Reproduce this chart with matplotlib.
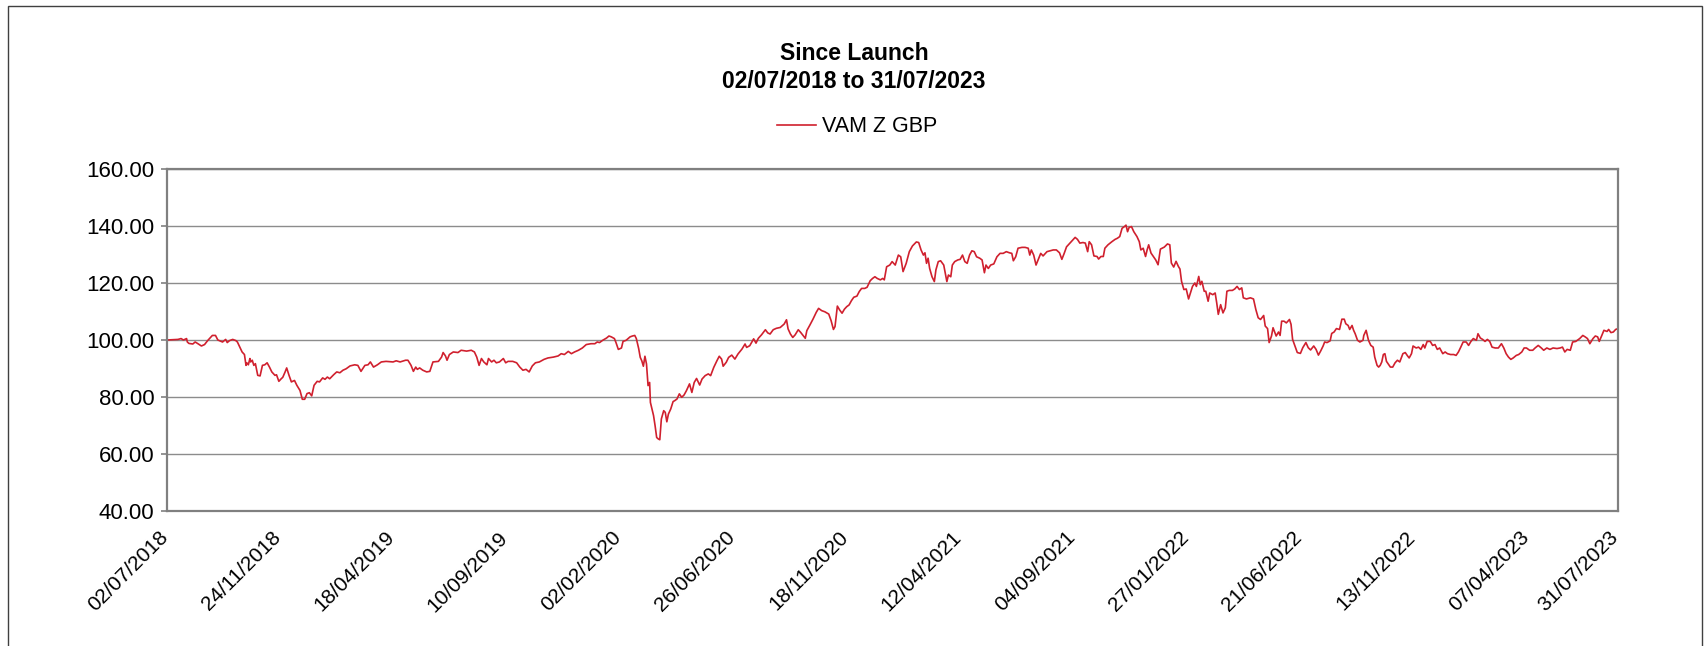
import numpy as np
import pandas as pd
import matplotlib
matplotlib.use("Agg")
import matplotlib.pyplot as plt
from matplotlib.patches import Rectangle
from matplotlib.transforms import ScaledTranslation

plt.rcParams['font.family'] = ['Liberation Sans', 'DejaVu Sans']

launch = "2018-07-02"

# days since launch / price index
days = [
    0, 14, 18, 21, 25, 26, 28, 33, 36, 39, 44, 48, 52, 58, 62, 65, 71, 75, 77, 80,
    84, 88, 90, 94, 96, 99, 101, 102, 104, 106, 107, 109, 111, 113, 116, 119, 122, 125, 128, 131,
    134, 138, 140, 143, 146, 148, 151, 153, 156, 159, 163, 166, 170, 173, 176, 179, 182, 185, 188, 192,
    195, 199, 202, 205, 208, 213, 217, 221, 225, 229, 234, 240, 244, 248, 253, 257, 260, 264, 269, 274,
    280, 289, 293, 298, 305,
    308, 312, 315, 318, 320, 323, 327, 332, 336, 340, 347, 351, 353, 356, 358, 361, 366, 372, 376, 383,
    389, 393, 396, 399, 402, 405, 409, 411, 415, 418, 421, 425, 430, 433, 436, 442, 447, 451, 455, 459,
    463, 467, 471, 476, 482, 487, 494, 500, 504, 508, 513, 517, 521, 526, 531, 536, 542, 547, 550, 553,
    557, 562, 565, 568, 572, 574, 577, 581, 583, 587, 592, 595, 598, 600, 603,
    605, 607, 609, 611, 613, 615, 617, 618, 620, 622, 624, 626, 628, 630, 632, 635, 637, 639, 641, 644,
    647, 649, 652, 655, 658, 661, 664, 668, 671, 674, 677, 681, 684, 688, 692, 695, 699, 703, 706, 709,
    711, 715, 718, 722, 726, 730, 735, 739, 741, 745, 750, 753, 756, 760, 765, 768, 771, 775, 779, 784,
    789, 792, 794, 797, 800, 803, 807, 810, 814, 816, 818, 822, 826, 830, 833, 837, 841, 846, 849,
    852, 854, 857, 860, 863, 866, 869, 872, 875, 878, 882, 885, 888, 892, 895, 899, 902, 905, 908, 912,
    915, 917, 920, 924, 927, 931, 935, 938, 941, 945, 949, 953, 958, 961, 964, 967, 969, 971, 973, 975,
    978, 981, 983, 986, 989, 993, 995, 997, 999, 1002, 1004, 1007, 1011, 1014, 1017, 1020, 1023, 1026, 1029, 1032,
    1035, 1039, 1042, 1045, 1047, 1050, 1053, 1057, 1061, 1065, 1069, 1073, 1077, 1080, 1082, 1085, 1088, 1093, 1097, 1101,
    1103, 1105, 1108, 1111, 1114, 1117, 1120, 1125, 1129, 1133, 1137, 1141, 1144, 1147, 1150, 1154, 1158, 1161, 1164,
    1167, 1171, 1174, 1177, 1179, 1182, 1185, 1189, 1191, 1194, 1197, 1199, 1203, 1208, 1212, 1215, 1218, 1221, 1224, 1226,
    1228, 1230, 1233, 1236, 1240, 1243, 1245, 1248, 1251, 1253, 1255, 1258, 1261, 1264, 1267, 1270, 1275, 1279, 1282, 1284,
    1287, 1290, 1293, 1295, 1297, 1300, 1303, 1306, 1309, 1311, 1314, 1316, 1319, 1321, 1323, 1326, 1328, 1331, 1333, 1337,
    1340, 1342, 1344, 1347, 1350, 1353, 1355, 1358, 1362, 1365, 1368, 1371, 1374, 1376, 1380, 1385, 1389, 1392, 1395, 1398,
    1402, 1404, 1407, 1409, 1412, 1414, 1418, 1421, 1423, 1425, 1428, 1431, 1435, 1437, 1439, 1442, 1445, 1449, 1452, 1456,
    1459, 1462, 1466, 1469, 1472, 1475, 1478, 1480, 1483, 1487, 1489, 1492, 1495, 1499,
    1502, 1505, 1507, 1510, 1512, 1515, 1517, 1519, 1522, 1525, 1529, 1530, 1533, 1536, 1539, 1542, 1544, 1547, 1549, 1551,
    1553, 1555, 1557, 1559, 1561, 1564, 1567, 1570, 1573, 1576, 1580, 1583, 1586, 1588, 1591, 1593, 1597, 1600, 1603, 1606,
    1608, 1611, 1615, 1618, 1621, 1624, 1627, 1631, 1634, 1637, 1641, 1645, 1648, 1651, 1654, 1657, 1661, 1664, 1667, 1670,
    1674, 1676, 1679, 1682, 1685, 1688, 1691, 1694, 1698, 1702, 1706, 1709, 1712, 1715, 1718, 1721, 1725, 1728, 1732, 1735,
    1738, 1742, 1746, 1749, 1753, 1757, 1760, 1764, 1768, 1772, 1777, 1781, 1784, 1787, 1790, 1794, 1797, 1801, 1806, 1810,
    1813, 1816, 1819, 1823, 1826, 1829, 1831, 1834, 1837, 1841, 1843, 1846, 1849, 1852, 1855,
]
nav = [
    100.0, 100.2, 100.5, 100.0, 100.5, 99.3, 98.8, 98.6, 99.3, 98.8, 97.9, 98.4, 99.8, 101.6, 101.6, 100.0, 99.3, 100.2, 99.1, 99.8,
    100.2, 99.8, 99.3, 97.0, 95.8, 94.9, 91.1, 92.0, 91.3, 93.5, 92.3, 92.9, 91.1, 91.7, 87.6, 87.4, 91.1, 91.3, 92.0, 90.5,
    88.8, 87.6, 87.8, 85.5, 86.4, 86.9, 88.8, 90.2, 87.6, 85.3, 85.8, 84.1, 82.3, 79.2, 79.2, 81.2, 81.5, 80.4, 84.1, 85.5,
    85.3, 86.7, 86.2, 87.0, 86.4, 87.8, 88.8, 88.5, 89.4, 89.9, 90.9, 91.3, 91.1, 89.0, 91.1, 91.3, 92.3, 90.5, 91.3, 92.3,
    92.5, 92.3, 92.7, 92.3, 92.9,
    92.9, 91.1, 89.0, 90.5, 89.7, 90.2, 89.4, 88.8, 89.0, 92.3, 92.5, 94.0, 95.6, 94.4, 92.9, 94.9, 95.8, 95.6, 96.4, 96.1,
    96.4, 95.8, 94.0, 91.1, 93.5, 92.3, 91.3, 93.5, 92.3, 92.9, 92.0, 92.3, 93.5, 92.0, 92.5, 92.5, 92.0, 90.5, 89.4, 89.7,
    88.8, 90.9, 92.0, 92.3, 93.2, 93.7, 94.0, 94.4, 95.2, 94.9, 96.0, 95.2, 95.8, 96.4, 97.2, 98.4, 98.7, 98.7, 99.3, 99.1,
    99.9, 100.7, 101.4, 101.1, 100.5, 99.1, 96.7, 97.2, 99.5, 99.9, 101.1, 101.4, 101.6, 100.5, 97.0,
    93.9, 92.7, 90.8, 94.3, 91.6, 84.0, 85.1, 78.1, 75.8, 73.5, 69.9, 65.8, 65.3, 65.0, 72.3, 75.2, 74.6, 71.3, 74.0, 75.8,
    78.4, 78.7, 79.3, 81.1, 79.9, 80.7, 82.2, 84.6, 81.6, 85.1, 86.5, 84.2, 86.3, 87.5, 88.1, 87.5, 90.4, 92.7, 94.3, 93.3,
    90.8, 92.2, 93.9, 94.7, 93.3, 95.1, 96.8, 98.6, 97.4, 98.0, 100.4, 98.9, 100.6, 101.8, 103.6, 102.5, 102.1, 103.6, 104.1, 104.4,
    105.6, 107.1, 103.9, 102.1, 100.9, 101.8, 103.6, 102.7, 101.3, 100.6, 103.3, 105.3, 107.4, 109.7, 111.1, 110.3, 109.9, 109.1, 106.8,
    103.7, 104.7, 111.9, 110.5, 109.4, 110.8, 111.7, 112.3, 113.8, 115.0, 115.4, 117.0, 118.1, 118.1, 118.5, 120.8, 121.6, 122.2, 121.6, 121.1,
    121.6, 121.1, 125.7, 126.3, 127.5, 126.3, 129.8, 129.2, 124.0, 126.9, 131.0, 133.0, 134.4, 134.2, 131.6, 129.8, 130.6, 126.9, 128.7, 125.1,
    122.2, 120.5, 124.6, 127.5, 127.8, 126.3, 123.4, 120.5, 122.8, 122.2, 126.3, 127.5, 128.1, 128.3, 129.8, 127.5, 126.9, 129.8, 131.3, 131.0,
    129.2, 128.7, 128.1, 123.6, 126.3, 125.1, 126.3, 126.7, 129.2, 130.4, 130.4, 131.0, 130.6, 130.4, 127.8, 129.2, 132.2, 132.5, 132.5, 132.2,
    129.8, 131.6, 129.8, 126.3, 128.3, 130.4, 129.5, 131.0, 131.3, 131.6, 131.6, 130.6, 128.3, 130.4, 132.7, 133.9, 135.1, 136.0, 135.3,
    134.0, 134.2, 134.0, 131.0, 134.5, 133.4, 129.5, 129.3, 128.4, 129.3, 129.3, 132.2, 133.4, 134.5, 135.3, 135.7, 136.3, 139.2, 139.8, 140.3,
    138.0, 139.5, 139.8, 138.0, 136.3, 134.5, 131.6, 132.2, 129.3, 131.6, 133.4, 130.5, 129.3, 128.1, 126.4, 131.9, 132.6, 133.7, 133.4, 127.0,
    125.6, 127.6, 125.8, 124.9, 120.6, 117.7, 117.9, 114.4, 117.1, 118.8, 120.0, 118.8, 122.3, 119.4, 120.6, 117.1, 117.1, 113.6, 116.5, 115.9,
    116.5, 113.0, 109.0, 112.4, 109.5, 111.3, 117.1, 117.4, 117.4, 117.9, 118.8, 117.7, 118.3, 114.8, 114.4, 114.8, 114.4, 110.7, 107.8, 107.2,
    108.6, 104.9, 104.0, 99.1, 101.4, 104.3, 101.4, 102.8, 101.6, 106.6, 106.6, 106.0, 107.2, 105.5, 100.2, 97.9, 95.6, 95.3, 97.3, 99.1,
    97.3, 96.5, 97.9, 96.7, 94.7, 96.2, 97.9, 99.3, 99.1, 99.7, 102.3, 102.8, 104.0, 103.7,
    107.3, 107.3, 105.7, 105.1, 103.7, 105.1, 103.4, 102.2, 99.9, 99.3, 99.9, 101.6, 103.4, 99.9, 98.1, 97.5, 94.0, 91.1, 90.5, 91.1,
    92.3, 94.9, 95.2, 92.5, 91.7, 90.5, 90.5, 92.0, 92.9, 92.3, 95.2, 95.6, 94.4, 93.7, 95.2, 97.9, 97.2, 97.5, 96.7, 98.4,
    97.2, 99.5, 99.5, 98.1, 98.4, 96.7, 97.2, 95.2, 95.8, 95.2, 94.9, 94.9, 94.6, 95.8, 97.5, 99.3, 99.3, 98.1, 99.5, 100.5,
    99.9, 102.2, 100.7, 100.2, 99.5, 100.2, 99.5, 97.5, 97.2, 97.2, 98.7, 97.2, 95.2, 94.0, 93.2, 93.7, 94.6, 94.9, 95.8, 97.2,
    97.2, 96.4, 96.4, 97.2, 98.1, 97.2, 96.4, 97.2, 96.7, 97.2, 97.0, 97.2, 97.5, 95.8, 96.7, 96.4, 99.3, 99.5, 100.5, 101.6,
    101.1, 100.5, 98.7, 100.5, 101.4, 101.1, 99.5, 101.4, 103.4, 103.0, 103.7, 102.6, 102.8, 103.7, 104.0,
]

tick_labels = ["02/07/2018", "24/11/2018", "18/04/2019", "10/09/2019", "02/02/2020",
               "26/06/2020", "18/11/2020", "12/04/2021", "04/09/2021", "27/01/2022",
               "21/06/2022", "13/11/2022", "07/04/2023", "31/07/2023"]
y_ticks = [40, 60, 80, 100, 120, 140, 160]

dates = pd.Timestamp(launch) + pd.to_timedelta(days, unit="D")
tick_dates = pd.to_datetime(tick_labels, format="%d/%m/%Y")

W, H = 1708, 646
fig = plt.figure(figsize=(W / 100, H / 100), dpi=100)
ax = fig.add_axes([167 / W, 1 - 511 / H, (1618 - 167) / W, (511 - 169) / H])

ax.plot(dates, nav, color="#d0202e", lw=1.2, label="VAM Z GBP")
ax.set_xlim(tick_dates[0], tick_dates[-1])
ax.set_ylim(40, 160)
ax.set_yticks(y_ticks)
ax.set_yticklabels([f"{v:.2f}" for v in y_ticks])

ax.grid(axis="y", color="#8c8c8c", lw=1)
ax.set_axisbelow(True)
for s in ax.spines.values():
    s.set_color("#808080")
    s.set_linewidth(1.6)
ax.tick_params(axis="y", length=4, width=1.2, color="#808080", labelsize=16, pad=5)
ax.tick_params(axis="x", length=0, labelsize=15, pad=10)

ax.set_xticks(tick_dates)
ax.set_xticklabels(tick_labels, rotation=45, ha="right", va="top", rotation_mode="anchor")
# nudge the date labels a little left, like the original
shift = ScaledTranslation(-0.09, -0.03, fig.dpi_scale_trans)
for t in ax.xaxis.get_major_ticks():
    t.label1.set_transform(t.label1.get_transform() + shift)

fig.text(0.5, 1 - 54 / H, "Since Launch", ha="center", va="center",
         fontsize=16.5, fontweight="bold")
fig.text(0.5, 1 - 82 / H, "02/07/2018 to 31/07/2023", ha="center", va="center",
         fontsize=16.5, fontweight="bold")
fig.legend(loc="center", bbox_to_anchor=(857 / W, 1 - 127 / H), frameon=False,
           fontsize=15.5, handlelength=1.8, handletextpad=0.3)

# outer frame of the chart
fig.patches.append(Rectangle((8 / W, -0.1), (1702 - 8) / W, 1.1 - 6 / H,
                             transform=fig.transFigure, fill=False,
                             ec="#404040", lw=1))

fig.savefig("out.png", dpi=100)
